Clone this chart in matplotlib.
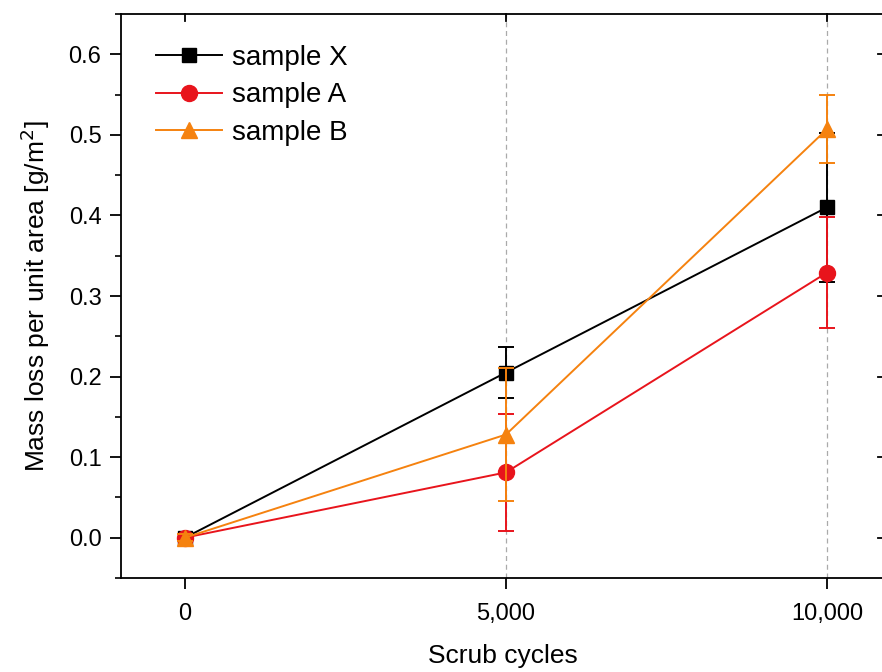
import matplotlib

matplotlib.use("Agg")
import matplotlib.pyplot as plt
from matplotlib.lines import Line2D
from matplotlib.ticker import FuncFormatter, MultipleLocator

plt.rcParams["font.family"] = ["Liberation Sans", "DejaVu Sans"]

cycles = [0, 5000, 10000]
sample_x = [0.0, 0.205, 0.41]
sample_x_err = [0.004, 0.032, 0.093]
sample_a = [0.0, 0.081, 0.329]
sample_a_err = [0.004, 0.073, 0.069]
sample_b = [0.0, 0.128, 0.507]
sample_b_err = [0.004, 0.083, 0.042]

series = [
    ("sample X", sample_x, sample_x_err, "black", "s", 10),
    ("sample A", sample_a, sample_a_err, "#e8141c", "o", 11.5),
    ("sample B", sample_b, sample_b_err, "#f5820f", "^", 12),
]

fig = plt.figure(figsize=(8.82, 6.72), dpi=100)
ax = fig.add_axes([0.137, 0.14, 0.866, 0.839])

for x in cycles[1:]:
    ax.axvline(x, color="#aaaaaa", linestyle=(0, (4, 3)), linewidth=0.9, zorder=0)

handles = []
for i, (name, vals, errs, color, marker, ms) in enumerate(series):
    ax.errorbar(cycles, vals, yerr=errs, color=color, marker=marker, markersize=ms,
                linewidth=1.4, elinewidth=1.4, capsize=6, capthick=1.4, zorder=2 + i)
    handles.append(Line2D([], [], color=color, marker=marker, markersize=ms,
                          linewidth=1.4, label=name))

ax.set_xlim(-1000, 10900)
ax.set_ylim(-0.05, 0.65)
ax.set_xticks(cycles)
ax.xaxis.set_major_formatter(FuncFormatter(lambda v, p: f"{int(v):,}"))
ax.yaxis.set_major_locator(MultipleLocator(0.1))
ax.yaxis.set_minor_locator(MultipleLocator(0.05))
ax.yaxis.set_major_formatter(FuncFormatter(lambda v, p: f"{v:.1f}"))

ax.tick_params(axis="both", which="major", direction="out", length=8, width=1.3,
               labelsize=17, pad=6)
ax.tick_params(axis="x", which="major", pad=10)
ax.tick_params(axis="y", which="minor", direction="out", length=4.5, width=1.2)
ax.tick_params(axis="both", which="both", top=False, right=False)

# inward major ticks on top and right
for x in cycles:
    ax.plot([x, x], [0.65, 0.65 - 0.009], color="black", lw=1.3,
            clip_on=False, zorder=5)
for y in [0.0, 0.1, 0.2, 0.3, 0.4, 0.5, 0.6]:
    ax.plot([10900, 10900 - 110], [y, y], color="black", lw=1.3, clip_on=False, zorder=5)

for s in ax.spines.values():
    s.set_linewidth(1.3)

ax.set_xlabel("Scrub cycles", fontsize=19, labelpad=14)
ax.set_ylabel("Mass loss per unit area [g/m$^2$]", fontsize=19, labelpad=12)

ax.legend(handles=handles, loc="upper left", frameon=False, fontsize=20,
          handlelength=2.4, handletextpad=0.35, labelspacing=0.42, borderaxespad=0.3,
          bbox_to_anchor=(0.02, 0.98))

fig.savefig("out.png", dpi=100)
